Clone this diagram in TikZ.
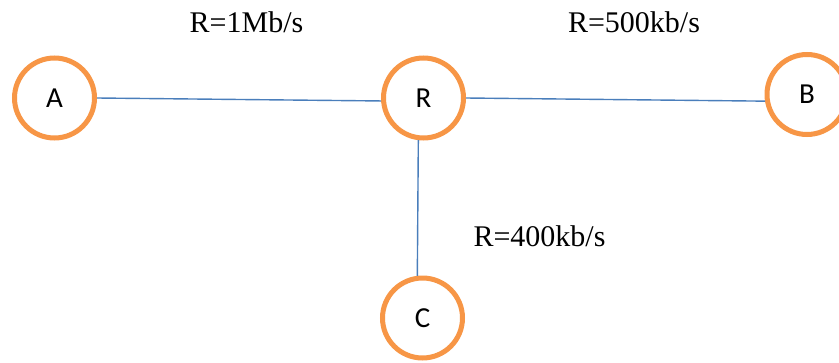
\documentclass[tikz,border=0pt]{standalone}
\usepackage{fontspec}
\setmainfont{Liberation Serif}
\newfontfamily\nodefont{Carlito}
\definecolor{ringorange}{HTML}{F79646}
\definecolor{linkblue}{HTML}{4A7EBB}
\begin{document}
\begin{tikzpicture}[x=1pt,y=-1pt,
  station/.style={circle,draw=ringorange,line width=5pt,fill=white,minimum size=80pt,inner sep=0pt,font=\nodefont\fontsize{29}{29}\selectfont},
  link/.style={draw=linkblue,line width=1.4pt},
  rate/.style={font=\fontsize{30}{30}\selectfont,anchor=base,inner sep=0pt}]
\useasboundingbox (0,0) rectangle (839,362);
\node[station] (A) at (54.5,98) {A};
\node[station] (R) at (423.5,98) {R};
\node[station] (B) at (807,94.5) {B};
\node[station] (C) at (422.5,318) {C};
\draw[link] (A.east) -- (R.184);
\draw[link] (R.east) -- (B.189);
\draw[link] (R.263) -- (C.97);
\node[rate] (l1) at (246.5,32) {R=1Mb/s};
\node[rate] (l2) at (634,32) {R=500kb/s};
\node[rate] (l3) at (539.5,246) {R=400kb/s};
\end{tikzpicture}
\end{document}
